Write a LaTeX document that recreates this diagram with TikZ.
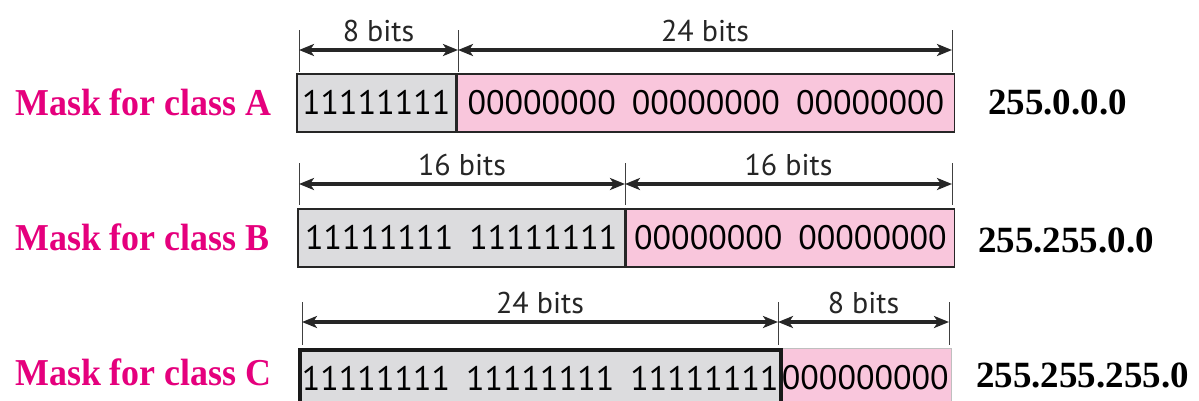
\documentclass[tikz,border=0pt]{standalone}
\usepackage{fontspec}
\setmainfont{Liberation Serif}
\newfontfamily\bitsfont{PT Sans}
\usetikzlibrary{arrows.meta}
\definecolor{maskgray}{HTML}{DCDCDE}
\definecolor{maskpink}{HTML}{F9C6DC}
\definecolor{maskmag}{HTML}{E5007D}
\newcommand{\gsp}{\hspace{16pt}}
\newcommand{\squeeze}[1]{\scalebox{0.945}[1]{#1}}
\tikzset{
  seg/.style={anchor=north west, minimum height=58pt, inner sep=0pt,
    font=\bitsfont\fontsize{34}{34}\selectfont, draw=black!85, line width=1.6pt},
  grayseg/.style={seg, fill=maskgray},
  pinkseg/.style={seg, fill=maskpink},
  ticks/.style={line width=0.8pt, draw=black!75},
  bitlabel/.style={font=\bitsfont\fontsize{30}{30}\selectfont, above=7pt, inner sep=0pt, text=black!85},
  masklabel/.style={font=\bfseries\fontsize{38}{38}\selectfont, text=maskmag, anchor=west, inner sep=0pt},
  addrlabel/.style={font=\bfseries\fontsize{37}{37}\selectfont, anchor=west, inner sep=0pt},
}
\begin{document}
\begin{tikzpicture}[x=1pt,y=-1pt,
  dimarrow/.style={draw=black!85, line width=3.2pt,
    {Stealth[length=15pt,width=12pt,inset=4pt]}-{Stealth[length=15pt,width=12pt,inset=4pt]}}]
\useasboundingbox (0,0) rectangle (1199,400);
\clip (0,0) rectangle (1199,400);
\fill[white] (0,0) rectangle (1199,400);

% ---------- Class A ----------
\node[masklabel] (la) at (15,102) {\squeeze{Mask for class A}};
\node[grayseg, minimum width=159pt] (a1) at (296,73) {11111111};
\node[pinkseg, minimum width=497pt] (a2) at (a1.north east) {00000000\gsp00000000\gsp00000000};
\node[addrlabel] (ra) at (988,102) {255.0.0.0};
\coordinate (ta0) at (299,30); \coordinate (ba0) at (299,72);
\coordinate (ta1) at (458,30); \coordinate (ba1) at (458,72);
\coordinate (ta2) at (952,30); \coordinate (ba2) at (952,72);
\draw[ticks] (ta0) -- (ba0);
\draw[ticks] (ta1) -- (ba1);
\draw[ticks] (ta2) -- (ba2);
\coordinate (pa0) at (299,50); \coordinate (pa1) at (458,50); \coordinate (pa2) at (952,50);
\path[dimarrow] (pa0) -- (pa1) node[bitlabel, midway] {8 bits};
\path[dimarrow] (pa1) -- (pa2) node[bitlabel, midway] {24 bits};

% ---------- Class B ----------
\node[masklabel] (lb) at (15,237) {\squeeze{Mask for class B}};
\node[grayseg, minimum width=327pt] (b1) at (297,208) {11111111\gsp11111111};
\node[pinkseg, minimum width=328pt] (b2) at (b1.north east) {00000000\gsp00000000};
\node[addrlabel] (rb) at (978,240) {255.255.0.0};
\coordinate (tb0) at (299,163); \coordinate (bb0) at (299,205);
\coordinate (tb1) at (625,163); \coordinate (bb1) at (625,205);
\coordinate (tb2) at (952,163); \coordinate (bb2) at (952,205);
\draw[ticks] (tb0) -- (bb0);
\draw[ticks] (tb1) -- (bb1);
\draw[ticks] (tb2) -- (bb2);
\coordinate (pb0) at (299,184); \coordinate (pb1) at (625,184); \coordinate (pb2) at (952,184);
\path[dimarrow] (pb0) -- (pb1) node[bitlabel, midway] {16 bits};
\path[dimarrow] (pb1) -- (pb2) node[bitlabel, midway] {16 bits};

% ---------- Class C ----------
\node[masklabel] (lc) at (15,372) {\squeeze{Mask for class C}};
\node[pinkseg, minimum width=172pt, draw=black!25, line width=0.6pt] (c2) at (779,348) {000000000};
\node[grayseg, minimum width=481pt, line width=3.5pt, draw=black!90] (c1) at (298,348) {11111111\gsp11111111\gsp11111111};
\node[addrlabel] (rc) at (976,375) {255.255.255.0};
\coordinate (tc0) at (302,302); \coordinate (bc0) at (302,345);
\coordinate (tc1) at (778,302); \coordinate (bc1) at (778,345);
\coordinate (tc2) at (949,302); \coordinate (bc2) at (949,345);
\draw[ticks] (tc0) -- (bc0);
\draw[ticks] (tc1) -- (bc1);
\draw[ticks] (tc2) -- (bc2);
\coordinate (pc0) at (302,322); \coordinate (pc1) at (778,322); \coordinate (pc2) at (949,322);
\path[dimarrow] (pc0) -- (pc1) node[bitlabel, midway] {24 bits};
\path[dimarrow] (pc1) -- (pc2) node[bitlabel, midway] {8 bits};
\end{tikzpicture}
\end{document}
